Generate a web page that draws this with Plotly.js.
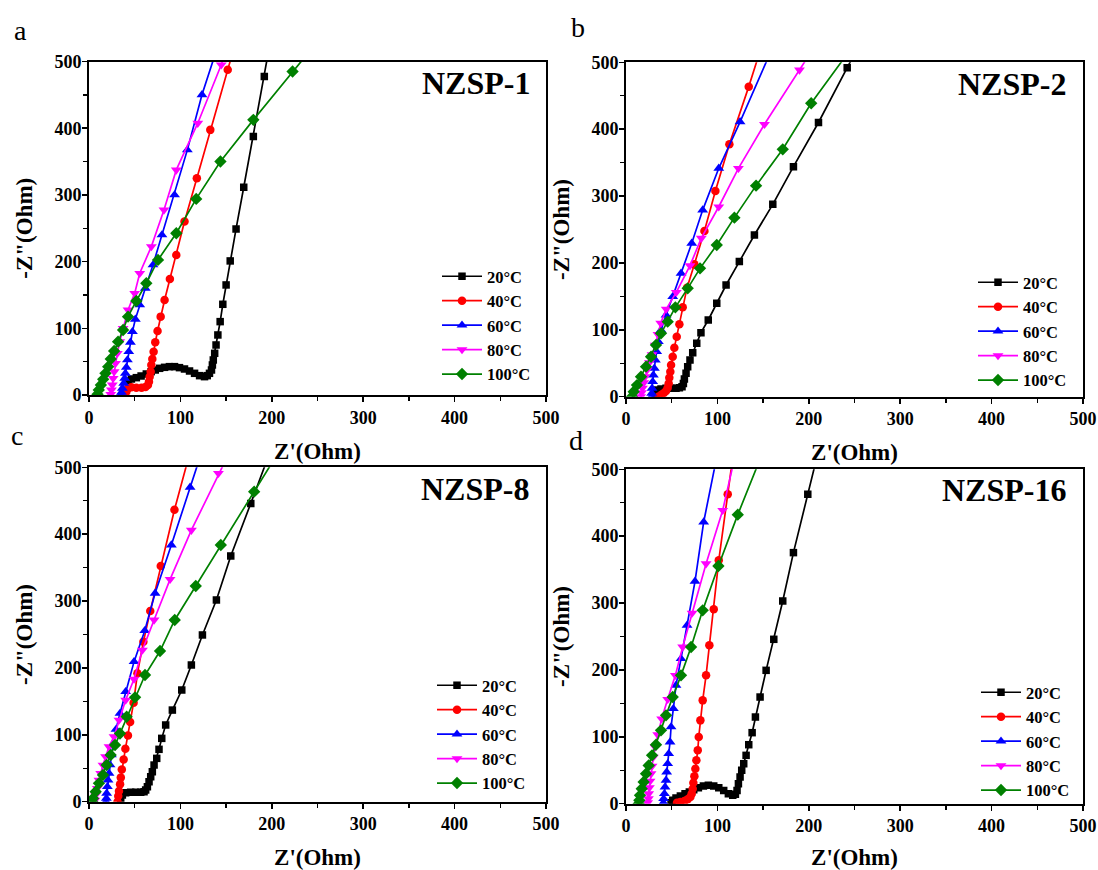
<!DOCTYPE html>
<html>
<head>
<meta charset="utf-8">
<script src="https://cdn.plot.ly/plotly-3.0.1.min.js"></script>
<style>html,body{margin:0;padding:0;background:#fff;}#chart{width:1098px;height:870px;}</style>
</head>
<body>
<div id="chart"></div>
<script>
// ---- categories / labels ----
const temps = ['20°C', '40°C', '60°C', '80°C', '100°C'];
const panelNames = ['NZSP-1', 'NZSP-2', 'NZSP-8', 'NZSP-16'];
const panelLetters = ['a', 'b', 'c', 'd'];
const tickVals = [0, 100, 200, 300, 400, 500];
const tickLabels = ['0', '100', '200', '300', '400', '500'];

// ---- Panel a : NZSP-1 ----
const a20x = [42.7, 46.4, 51.8, 57, 62.7, 68, 72.5, 77.3, 82.7, 88, 93.6, 99, 104.5, 110, 115.5, 121, 126.4, 129.4, 131.8, 134, 135, 136, 137.5, 139, 141, 143.5, 146.4, 150, 154.5, 160.9, 169.3, 179.8, 191.8, 205];
const a20y = [21, 24, 26, 28.5, 31.5, 35, 37.5, 40, 41.5, 42.5, 42.5, 41, 39, 36, 32.5, 29, 27.5, 29, 32.5, 37.5, 45, 52.5, 62.5, 75, 90, 110, 136, 165, 201, 249, 311.5, 387.5, 477.5, 580];
const a40x = [40.9, 42.7, 46.4, 51.8, 57.5, 61.8, 64.5, 65.6, 66.4, 67.5, 68.2, 69.3, 70.7, 72.5, 75, 78.4, 82.7, 88.5, 95.5, 104.5, 118, 132.7, 151.8, 171];
const a40y = [5, 10, 11.5, 11, 11, 12, 15, 20, 27.5, 35, 45, 54, 65, 79, 96, 117.5, 142.5, 174, 210, 260, 325, 397.5, 487.5, 580];
const a60x = [34.7, 35.5, 36.5, 38, 39, 39.8, 40.9, 42, 43.5, 45.3, 47.5, 50.7, 55.5, 61.6, 70, 79.8, 93.6, 107.6, 123.6, 143];
const a60y = [0, 4, 10, 17.5, 25, 32.5, 41.5, 52.5, 65, 79, 95, 113.5, 135, 160, 195, 240, 300, 367.5, 450, 532];
const a80x = [23.8, 24.5, 25.5, 26.4, 27.5, 29, 31, 33.6, 37.3, 42.7, 50, 55.5, 68.2, 82, 95.5, 119, 144.7, 160];
const a80y = [1, 7.5, 15, 25, 35, 47.5, 62.5, 80, 100, 127.5, 152.5, 182.5, 222.5, 277.5, 337.5, 407.5, 495, 560];
const a100x = [9.3, 10.7, 13, 15.5, 18, 21, 23.8, 27.5, 31.8, 37.3, 42.7, 51.8, 62.7, 75.5, 95.5, 117.3, 143.8, 179.8, 222.7, 265];
const a100y = [1, 7.5, 15, 23.5, 32.5, 42.5, 54, 66, 80, 97.5, 117.5, 141, 167.5, 202.5, 242.5, 294, 350, 412.5, 485, 555];

// ---- Panel b : NZSP-2 ----
const b20x = [32.8, 34.7, 38.3, 43.8, 49.3, 54.7, 58.4, 61.3, 62.8, 63.9, 65.7, 67.5, 70, 73, 77.4, 82, 90, 99.3, 109.5, 124, 140.5, 160.6, 183.2, 210.6, 242, 270];
const b20y = [5, 10, 11.5, 12.5, 12.5, 12.5, 13.5, 15, 19.9, 26.4, 34.9, 44.9, 54.8, 65.8, 79.8, 95.7, 114.7, 139.6, 167, 202, 241.8, 287.6, 344, 410, 492, 565];
const b40x = [35.4, 38.3, 41.2, 43.8, 45.6, 46.7, 47.4, 48.5, 49.3, 51.1, 52.9, 55.5, 58.4, 62, 66.8, 74.8, 85.8, 97.8, 113.1, 134.3, 152];
const b40y = [0, 2.5, 5, 8.5, 13.5, 19.9, 28.4, 37.4, 47.4, 59.8, 73.3, 89.7, 108.2, 133.6, 163, 197.9, 247.8, 307.6, 377.4, 463.6, 540];
const b60x = [28.1, 28.1, 28.5, 29.2, 29.9, 31, 32.1, 33.6, 35.4, 38.3, 43.8, 51.1, 60.2, 71.9, 83.9, 101.5, 124.8, 156.5];
const b60y = [0, 5, 12.5, 22.4, 32.4, 42.4, 54.8, 67.3, 82.3, 99.7, 122, 149.6, 184.4, 229.3, 279, 341.5, 411, 510];
const b80x = [16, 17, 18, 19.5, 21, 23, 25.5, 28.5, 32, 35, 38, 44, 55, 70, 82.4, 101.5, 123, 151.5, 189.8, 214];
const b80y = [0, 6, 13, 21, 30, 40, 51, 63, 77, 93, 110, 131, 156, 196, 237, 284, 341.5, 407.3, 488.5, 540];
const b100x = [6.6, 8.4, 12, 16.4, 21.9, 27.4, 32.8, 38.3, 45.6, 54, 67.5, 81, 99.3, 118.6, 142.3, 171.5, 202.6, 262];
const b100y = [0, 7.5, 17.4, 29.9, 44.9, 59.8, 77.3, 94.7, 112.2, 133.6, 162, 191.9, 226.8, 267.7, 315.6, 369.9, 438.7, 550];

// ---- Panel c : NZSP-8 ----
const c20x = [34.7, 36.5, 40.1, 45.6, 51.1, 56.6, 60.2, 62, 63.9, 65.7, 67.5, 69.3, 71.2, 74.1, 76.6, 79.6, 83.9, 91.2, 101.5, 112, 124.1, 139.4, 155.1, 177, 200];
const c20y = [5, 10, 13.5, 14, 14, 14, 15, 17.4, 22.4, 29.9, 37.4, 44.9, 54.8, 64.8, 78.3, 94.7, 114.7, 137, 167, 204.4, 249.3, 301.6, 367.4, 446, 530];
const c40x = [31.2, 32, 32.8, 34, 34.8, 35.9, 37.9, 39.8, 42.6, 45, 48.8, 53, 59.5, 67, 78.5, 93.5, 110];
const c40y = [0, 8.5, 16, 26, 36, 48, 63, 79, 99, 119, 148, 192, 239, 285, 352.5, 436.5, 520];
const c60x = [18.6, 19, 19.3, 20.1, 20.8, 21.9, 23, 24.5, 26.6, 29.5, 33.9, 40.1, 49.3, 61, 72.3, 90.1, 110.6, 125];
const c60y = [0, 5, 12.5, 22.4, 32.4, 42.4, 55, 70, 87, 108, 132, 164.5, 209.4, 255.7, 311.6, 383.8, 470, 530];
const c80x = [6.6, 7.3, 9.1, 10.9, 12.8, 15.3, 18.2, 21.9, 27.4, 32.8, 40.1, 49.3, 58.4, 71.2, 88.7, 112, 141.6, 160];
const c80y = [2.5, 10, 20, 32.4, 42.4, 54.8, 67.3, 82.3, 97.2, 122, 152, 183.4, 226.8, 271.7, 332.5, 406, 491, 540];
const c100x = [3.6, 4.4, 7.3, 10.9, 15.3, 19.3, 23.7, 28.5, 33.9, 41.2, 50.4, 61.3, 77.7, 93.8, 116.8, 144.2, 180.7, 213];
const c100y = [0, 5, 15, 27.4, 39.9, 54.8, 69.8, 84.7, 102, 127, 156, 189.4, 225.3, 271.7, 322.5, 383.8, 463.6, 535];

// ---- Panel d : NZSP-16 ----
const d20x = [49.3, 51.1, 54.7, 59.5, 64.6, 69.3, 74.1, 79.2, 84.7, 90.1, 96, 101.5, 106.9, 112, 116.8, 119.7, 121.5, 123, 124.8, 126.6, 128.8, 131.4, 134.3, 138, 141.6, 146.7, 153.3, 161.7, 171.5, 183.2, 198.9, 213.7];
const d20y = [1.5, 5, 8.5, 11.5, 15, 17.4, 20.9, 23.9, 26.4, 27.4, 26.4, 23.9, 19.9, 15, 12.5, 14, 19.9, 29.9, 39.9, 49.9, 59.8, 72.3, 88.2, 106.2, 129.6, 159.5, 199.4, 245.8, 303.1, 375.4, 462.6, 545];
const d40x = [55.8, 59.5, 63.9, 67.5, 70.4, 71.9, 73, 73.7, 74.8, 75.9, 77, 78.5, 79.6, 81.4, 83.9, 87.6, 91.2, 96, 101.5, 111.3, 118];
const d40y = [1.5, 2.5, 4, 6.5, 10, 15, 22.4, 31.4, 40.9, 52.3, 64.8, 79.8, 99.7, 124.6, 154.5, 191.9, 236.8, 290.6, 363.9, 462.6, 530];
const d60x = [40.9, 41.2, 42, 42.7, 43.8, 44.5, 45.6, 46.7, 48.2, 49.3, 51.8, 54.7, 60.2, 66.8, 75.5, 85, 101];
const d60y = [1.5, 7.5, 15, 24.9, 34.9, 47.4, 59.8, 74.8, 92.2, 114.7, 142.1, 177, 216.8, 266.7, 332.5, 421.2, 530];
const d80x = [23.7, 24.5, 24.8, 25.5, 26.3, 27.4, 28.5, 29.9, 31.8, 34.7, 39, 45.6, 54, 62, 72.3, 87.6, 105.8, 121];
const d80y = [1.5, 7.5, 15, 23.9, 33.9, 44.9, 56.3, 69.8, 84.7, 103.2, 127, 156, 191.9, 234.3, 285.1, 358.9, 438.7, 530];
const d100x = [13.9, 14.6, 15.3, 17.2, 19.3, 21.9, 24.8, 28.5, 32.8, 38.3, 43.8, 51.1, 60.2, 71.2, 83.9, 101.1, 122.3, 151];
const d100y = [0, 5, 12.5, 22.4, 32.4, 44.9, 57.3, 72.3, 88.2, 109.7, 132.1, 159.5, 191.9, 234.3, 289.1, 355.4, 432.2, 530];

// ---- assembling ----
const panels = [
  [[a20x, a20y], [a40x, a40y], [a60x, a60y], [a80x, a80y], [a100x, a100y]],
  [[b20x, b20y], [b40x, b40y], [b60x, b60y], [b80x, b80y], [b100x, b100y]],
  [[c20x, c20y], [c40x, c40y], [c60x, c60y], [c80x, c80y], [c100x, c100y]],
  [[d20x, d20y], [d40x, d40y], [d60x, d60y], [d80x, d80y], [d100x, d100y]]
];

const colors = ['#000000', '#ff0000', '#0000ff', '#ff00ff', '#008000'];
const symbols = ['square', 'circle', 'triangle-up', 'triangle-down', 'diamond'];
const msizes = [7.5, 8.5, 9.5, 9.5, 9.5];
const SERIF = 'Liberation Serif, Times New Roman, serif';
const W = 1098, H = 870;

// pixel geometry of the four plot boxes [left, right, top, bottom]
const boxes = [
  [89, 546, 61.5, 395],
  [626, 1083, 62.3, 396.7],
  [89, 546, 467.3, 801.7],
  [626, 1083, 469.3, 803.7]
];
// legend placement [x px of legend left, y px of legend top]
const legendPos = [[437, 259], [973, 265], [432, 668], [976, 675]];
// panel name label [right x, middle y]
const namePos = [[532, 82.6], [1068, 84.3], [531, 489], [1068, 490]];
const letterPos = [[20, 30.6], [578, 27.6], [17, 435.6], [576, 440.6]];

const boldTicks = tickLabels.map(t => '<b>' + t + '</b>');

const traces = [];
const layout = {
  width: W, height: H,
  margin: {l: 0, r: 0, t: 0, b: 0, autoexpand: false},
  paper_bgcolor: '#ffffff',
  plot_bgcolor: '#ffffff',
  showlegend: true,
  font: {family: SERIF, color: '#000000'},
  annotations: []
};

panels.forEach((series, p) => {
  const n = p + 1;
  const xa = 'x' + (n === 1 ? '' : n);
  const ya = 'y' + (n === 1 ? '' : n);
  const lg = 'legend' + (n === 1 ? '' : n);
  series.forEach((s, i) => {
    traces.push({
      type: 'scatter', mode: 'lines+markers',
      x: s[0], y: s[1],
      name: temps[i],
      xaxis: xa, yaxis: ya, legend: lg,
      line: {color: colors[i], width: 1.7},
      marker: {symbol: symbols[i], size: msizes[i], color: colors[i], line: {width: 0}},
      hoverinfo: 'x+y+name'
    });
  });
  const b = boxes[p];
  const axCommon = {
    range: [0, 500], autorange: false,
    showline: true, mirror: true, linewidth: 2, linecolor: '#000000',
    showgrid: false, zeroline: false,
    ticks: 'outside', ticklen: 5, tickwidth: 1.5, tickcolor: '#000000',
    tickmode: 'array', tickvals: tickVals, ticktext: boldTicks,
    minor: {dtick: 50, tick0: 0, ticks: 'outside', ticklen: 4, tickwidth: 1.5, tickcolor: '#000000', showgrid: false},
    tickfont: {family: SERIF, size: 18, weight: 'bold', color: '#000000'},
    automargin: false
  };
  layout['xaxis' + (n === 1 ? '' : n)] = Object.assign({}, axCommon, {
    domain: [b[0] / W, b[1] / W],
    anchor: ya,
    title: {text: "<b>Z'(Ohm)</b>", font: {family: SERIF, size: 23, weight: 'bold', color: '#000000'}, standoff: 16}
  });
  layout['yaxis' + (n === 1 ? '' : n)] = Object.assign({}, axCommon, {
    domain: [(H - b[3]) / H, (H - b[2]) / H],
    anchor: xa,
    ticklabelstandoff: -3,
    title: {text: '<b>-Z"(Ohm)</b>', font: {family: SERIF, size: 23, weight: 'bold', color: '#000000'}, standoff: 15}
  });
  layout[lg] = {
    x: legendPos[p][0] / W, y: (H - legendPos[p][1]) / H,
    xanchor: 'left', yanchor: 'top',
    bgcolor: 'rgba(0,0,0,0)', borderwidth: 0,
    font: {family: SERIF, size: 16.5, weight: 'bold', color: '#000000'},
    itemwidth: 40, traceorder: 'normal'
  };
  layout.annotations.push({
    xref: 'paper', yref: 'paper', x: namePos[p][0] / W, y: (H - namePos[p][1]) / H,
    xanchor: 'right', yanchor: 'middle', showarrow: false,
    text: '<b>' + panelNames[p] + '</b>',
    font: {family: SERIF, size: 32, color: '#000000'}
  });
  layout.annotations.push({
    xref: 'paper', yref: 'paper', x: letterPos[p][0] / W, y: (H - letterPos[p][1]) / H,
    xanchor: 'center', yanchor: 'middle', showarrow: false,
    text: panelLetters[p],
    font: {family: SERIF, size: 28, color: '#000000'}
  });
});

Plotly.newPlot('chart', traces, layout, {staticPlot: true, displayModeBar: false});
</script>
</body>
</html>
